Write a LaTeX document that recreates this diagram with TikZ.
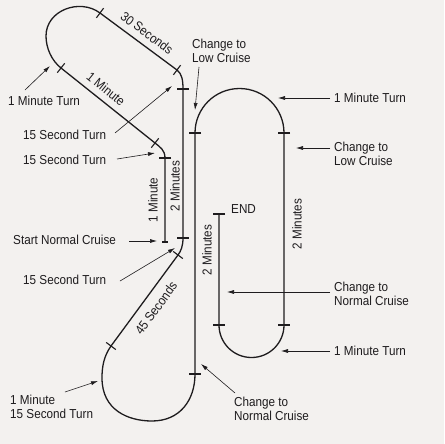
\documentclass[tikz,border=0pt]{standalone}
\usepackage{fontspec}
\setmainfont{Liberation Sans}[FakeStretch=0.9]
\usetikzlibrary{calc,arrows.meta}
\definecolor{bgc}{RGB}{243,241,239}
\definecolor{ink}{RGB}{30,28,30}
\newcommand\mytick[3][6]{\draw[tickline] ($(#2)!#1pt!90:(#3)$) -- ($(#2)!#1pt!-90:(#3)$);}
\begin{document}
\begin{tikzpicture}[x=1pt,y=-1pt,
  track/.style={draw=ink,line width=1.3pt,line join=round},
  tickline/.style={draw=ink,line width=1.1pt},
  lbl/.style={inner sep=0pt,text=ink,font=\fontsize{13}{14}\selectfont,align=left},
  ptr/.style={draw=ink,line width=0.6pt,-{Latex[length=7pt,width=4pt]}}]
\fill[bgc] (0,0) rectangle (444,444);
\useasboundingbox (0,0) rectangle (444,444);
% track points
\coordinate (S) at (165,242);
\coordinate (T1) at (165,158);
\coordinate (T2) at (155,143);
\coordinate (T3) at (61,68);
\coordinate (T4) at (100,13);
\coordinate (T5) at (177,70);
\coordinate (T6) at (183,89);
\coordinate (T7) at (183,238);
\coordinate (T8) at (178,255);
\coordinate (T9) at (111,346);
\coordinate (T10) at (195,374);
\coordinate (T11) at (195,133);
\coordinate (T12) at (284,133);
\coordinate (T13) at (284,325);
\coordinate (T14) at (219,325);
\coordinate (E) at (219,214);
\draw[track] (S) -- (T1) .. controls (165,150) and (160,147) .. (T2) -- (T3)
  .. controls (51.6,60.6) and (46,48) .. (46,36)
  .. controls (46,10) and (80,-2) .. (T4) -- (T5)
  .. controls (181.8,73.6) and (183,80) .. (T6) -- (T7)
  .. controls (183,246) and (181,251) .. (T8) -- (T9)
  .. controls (104,356) and (102,366) .. (102,378)
  .. controls (102,410) and (128,421) .. (152,421)
  .. controls (180,421) and (195,400) .. (T10) -- (T11)
  .. controls (195,108.4) and (214.9,88.5) .. (239.5,88.5)
  .. controls (264.1,88.5) and (284,108.4) .. (T12) -- (T13)
  .. controls (284,343) and (269.5,357.5) .. (251.5,357.5)
  .. controls (233.5,357.5) and (219,343) .. (T14) -- (E);
% ticks
\mytick[3]{S}{T1}
\mytick{T1}{S}
\mytick{T2}{T3}
\mytick{T3}{T2}
\mytick{T4}{T5}
\mytick{T5}{T4}
\mytick{T6}{T7}
\mytick{T7}{T6}
\mytick{T8}{T9}
\mytick{T9}{T8}
\mytick{T10}{T11}
\mytick{T11}{T10}
\mytick{T12}{T13}
\mytick{T13}{T12}
\mytick{T14}{E}
\mytick{E}{T14}
% along-track labels
\node[lbl,rotate=-37] (r1) at (147,33) {30 Seconds};
\node[lbl,rotate=-39] (r2) at (106,89) {1 Minute};
\node[lbl,rotate=90] (r3) at (153,200) {1 Minute};
\node[lbl,rotate=90] (r4) at (175,186) {2 Minutes};
\node[lbl,rotate=54] (r5) at (156,308) {45 Seconds};
\node[lbl,rotate=90] (r6) at (207,250) {2 Minutes};
\node[lbl,rotate=90] (r7) at (297,224) {2 Minutes};
% callout labels
\node[lbl,anchor=west] (n1) at (8,101) {1 Minute Turn};
\node[lbl,anchor=west] (n2) at (23,135) {15 Second Turn};
\node[lbl,anchor=west] (n3) at (23,160) {15 Second Turn};
\node[lbl,anchor=west] (n4) at (13,240) {Start Normal Cruise};
\node[lbl,anchor=west] (n5) at (23,280) {15 Second Turn};
\node[lbl,anchor=west] (n6) at (10,407) {1 Minute\\15 Second Turn};
\node[lbl,anchor=west] (n7) at (192,51) {Change to\\Low Cruise};
\node[lbl,anchor=west] (n8) at (334,98) {1 Minute Turn};
\node[lbl,anchor=west] (n9) at (334,154) {Change to\\Low Cruise};
\node[lbl,anchor=west] (n10) at (231,209) {END};
\node[lbl,anchor=west] (n11) at (334,294) {Change to\\Normal Cruise};
\node[lbl,anchor=west] (n12) at (334,351) {1 Minute Turn};
\node[lbl,anchor=west] (n13) at (234,409) {Change to\\Normal Cruise};
% arrow ends
\coordinate (a1s) at (25,90);   \coordinate (a1e) at (50,66);
\coordinate (a2s) at (115,133); \coordinate (a2e) at (172,86);
\coordinate (a3s) at (117,159); \coordinate (a3e) at (155,153);
\coordinate (a4s) at (129,241); \coordinate (a4e) at (157,241);
\coordinate (a5s) at (120,281); \coordinate (a5e) at (175,248);
\coordinate (a6s) at (65,392);  \coordinate (a6e) at (98,381);
\coordinate (a7s) at (199,67);  \coordinate (a7e) at (195,110);
\coordinate (a8s) at (330,98);  \coordinate (a8e) at (278,98);
\coordinate (a9s) at (330,148); \coordinate (a9e) at (296,148);
\coordinate (a11s) at (330,292); \coordinate (a11e) at (227,292);
\coordinate (a12s) at (330,351); \coordinate (a12e) at (281,351);
\coordinate (a13s) at (235,393); \coordinate (a13e) at (201,364);
\draw[ptr] (a1s) -- (a1e);
\draw[ptr] (a2s) -- (a2e);
\draw[ptr] (a3s) -- (a3e);
\draw[ptr] (a4s) -- (a4e);
\draw[ptr] (a5s) -- (a5e);
\draw[ptr] (a6s) -- (a6e);
\draw[ptr] (a7s) -- (a7e);
\draw[ptr] (a8s) -- (a8e);
\draw[ptr] (a9s) -- (a9e);
\draw[ptr] (a11s) -- (a11e);
\draw[ptr] (a12s) -- (a12e);
\draw[ptr] (a13s) -- (a13e);
\end{tikzpicture}
\end{document}
